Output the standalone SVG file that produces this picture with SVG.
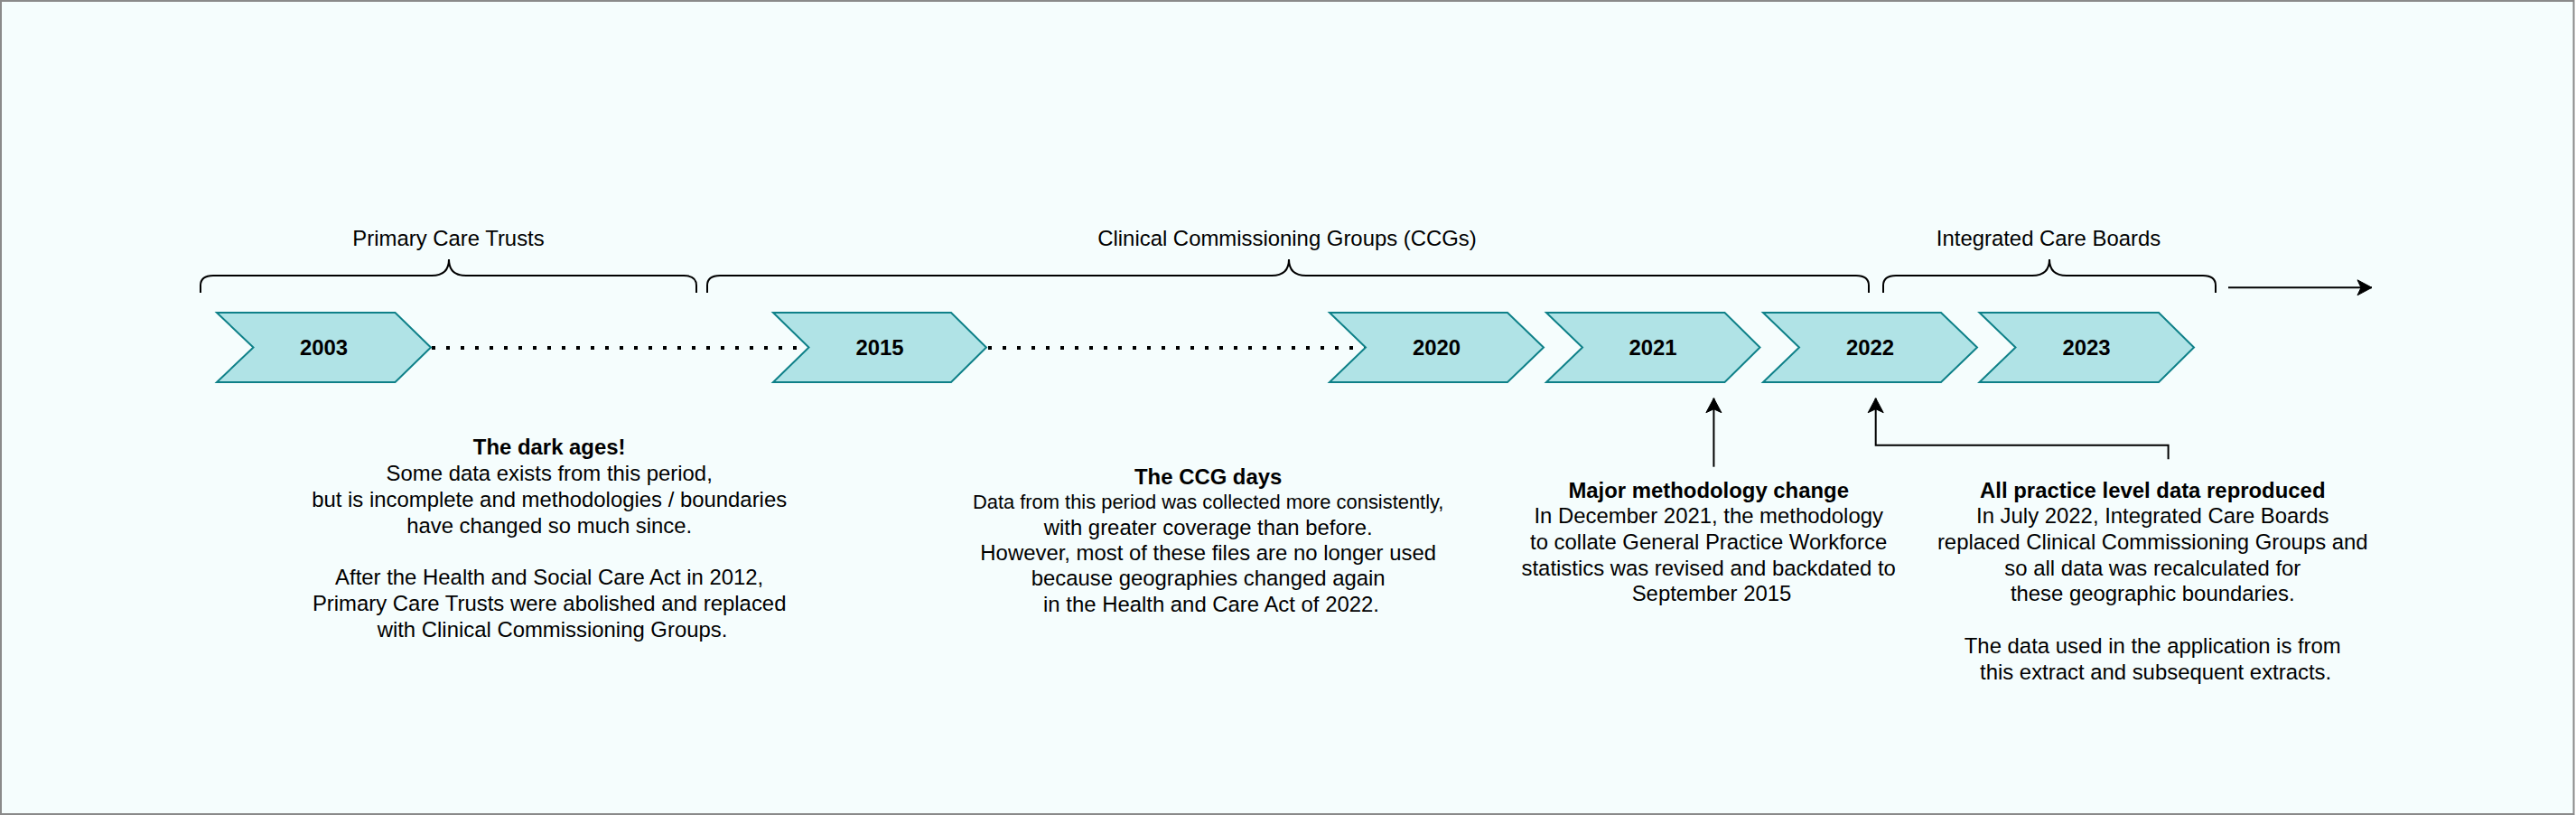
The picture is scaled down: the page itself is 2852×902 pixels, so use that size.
<svg xmlns="http://www.w3.org/2000/svg" width="2852" height="902" viewBox="0 0 2852 902">
<defs>
<style>
.bg{fill:#F5FDFD;stroke:#8A8A8A;stroke-width:2}
.chev{fill:#B0E3E6;stroke:#0E8088;stroke-width:2}
.yr{font-family:"Liberation Sans",Arial,Helvetica,sans-serif;font-size:23.9px;font-weight:bold;fill:#000;text-anchor:middle}
.t{font-family:"Liberation Sans",Arial,Helvetica,sans-serif;font-size:23.9px;fill:#000;text-anchor:middle}
.b{font-weight:bold}
.sm{font-size:21.9px}
.brace{fill:none;stroke:#000;stroke-width:2}
.dot{fill:none;stroke:#000;stroke-width:4;stroke-dasharray:4 12}
.conn{fill:none;stroke:#000;stroke-width:2}
</style>
<marker id="arr" markerUnits="userSpaceOnUse" viewBox="-17 -10 18 20" refX="0" refY="0" markerWidth="18" markerHeight="20" orient="auto">
<path d="M0,0 L-16,-8.5 L-12,0 L-16,8.5 Z" fill="#000" stroke="#000" stroke-width="1"/>
</marker>
</defs>
<rect class="bg" x="1" y="1" width="2848.5" height="900"/>

<g id="brace-pct">
<path class="brace" d="M222,324 L222,316 Q222,305 236,305 L478,305 Q497,305 497,287 Q497,305 516,305 L757,305 Q771,305 771,316 L771,324"/>
<text class="t" x="496.5" y="271.7">Primary Care Trusts</text>
</g>
<g id="brace-ccg">
<path class="brace" d="M783,324 L783,316 Q783,305 797,305 L1408,305 Q1427,305 1427,287 Q1427,305 1446,305 L2055,305 Q2069,305 2069,316 L2069,324"/>
<text class="t" x="1425" y="271.7">Clinical Commissioning Groups (CCGs)</text>
</g>
<g id="brace-icb">
<path class="brace" d="M2085,324 L2085,316 Q2085,305 2099,305 L2250,305 Q2269,305 2269,287 Q2269,305 2288,305 L2439,305 Q2453,305 2453,316 L2453,324"/>
<text class="t" x="2268" y="271.7">Integrated Care Boards</text>
</g>

<g id="connectors">
<line class="dot" x1="478" y1="385" x2="895" y2="385"/>
<line class="dot" x1="1094" y1="385" x2="1512" y2="385"/>
<line class="conn" x1="2467" y1="318.3" x2="2626" y2="318.3" marker-end="url(#arr)"/>
<line class="conn" x1="1897.4" y1="516.7" x2="1897.4" y2="440.7" marker-end="url(#arr)"/>
<polyline class="conn" points="2400.6,508.3 2400.6,492.7 2076.7,492.7 2076.7,440.7" marker-end="url(#arr)"/>
</g>

<g id="y2003">
<polygon class="chev" points="240,346 437.5,346 477,384.5 437.5,423 240,423 280.5,384.5"/>
<text class="yr" x="358.5" y="392.5">2003</text>
</g>
<g id="y2015">
<polygon class="chev" points="856,346 1053,346 1092,384.5 1053,423 856,423 895.5,384.5"/>
<text class="yr" x="974" y="392.5">2015</text>
</g>
<g id="y2020">
<polygon class="chev" points="1472,346 1669,346 1709,384.5 1669,423 1472,423 1512,384.5"/>
<text class="yr" x="1590.5" y="392.5">2020</text>
</g>
<g id="y2021">
<polygon class="chev" points="1712,346 1909.5,346 1948.5,384.5 1909.5,423 1712,423 1752,384.5"/>
<text class="yr" x="1830" y="392.5">2021</text>
</g>
<g id="y2022">
<polygon class="chev" points="1952,346 2149,346 2189,384.5 2149,423 1952,423 1992,384.5"/>
<text class="yr" x="2070.5" y="392.5">2022</text>
</g>
<g id="y2023">
<polygon class="chev" points="2191.5,346 2390,346 2429,384.5 2390,423 2191.5,423 2231.5,384.5"/>
<text class="yr" x="2310" y="392.5">2023</text>
</g>

<g id="note-dark-ages">
<text class="t">
<tspan class="b" x="611.5" y="503.3">The dark ages!</tspan>
<tspan x="611.5" y="532.1">Some data exists from this period,</tspan>
<tspan x="611.5" y="560.9">but is incomplete and methodologies / boundaries</tspan>
<tspan x="611.5" y="589.7">have changed so much since.</tspan>
<tspan x="611.5" y="647.3">After the Health and Social Care Act in 2012,</tspan>
<tspan x="611.5" y="676.1">Primary Care Trusts were abolished and replaced</tspan>
<tspan x="611.5" y="704.9">with Clinical Commissioning Groups.</tspan>
</text>
</g>

<g id="note-ccg-days">
<text class="t">
<tspan class="b" x="1341" y="536">The CCG days</tspan>
<tspan class="sm" x="1341" y="563.3">Data from this period was collected more consistently,</tspan>
<tspan x="1341" y="591.7">with greater coverage than before.</tspan>
<tspan x="1341" y="620">However, most of these files are no longer used</tspan>
<tspan x="1341" y="648.3">because geographies changed again</tspan>
<tspan x="1341" y="676.7">in the Health and Care Act of 2022.</tspan>
</text>
</g>

<g id="note-methodology">
<text class="t">
<tspan class="b" x="1895" y="551">Major methodology change</tspan>
<tspan x="1895" y="579.4">In December 2021, the methodology</tspan>
<tspan x="1895" y="607.8">to collate General Practice Workforce</tspan>
<tspan x="1895" y="636.5">statistics was revised and backdated to</tspan>
<tspan x="1895" y="665">September 2015</tspan>
</text>
</g>

<g id="note-practice-data">
<text class="t">
<tspan class="b" x="2386.6" y="551">All practice level data reproduced</tspan>
<tspan x="2386.6" y="579.4">In July 2022, Integrated Care Boards</tspan>
<tspan x="2386.6" y="607.8">replaced Clinical Commissioning Groups and</tspan>
<tspan x="2386.6" y="636.5">so all data was recalculated for</tspan>
<tspan x="2386.6" y="665">these geographic boundaries.</tspan>
<tspan x="2386.6" y="723.3">The data used in the application is from</tspan>
<tspan x="2386.6" y="751.7">this extract and subsequent extracts.</tspan>
</text>
</g>
</svg>
